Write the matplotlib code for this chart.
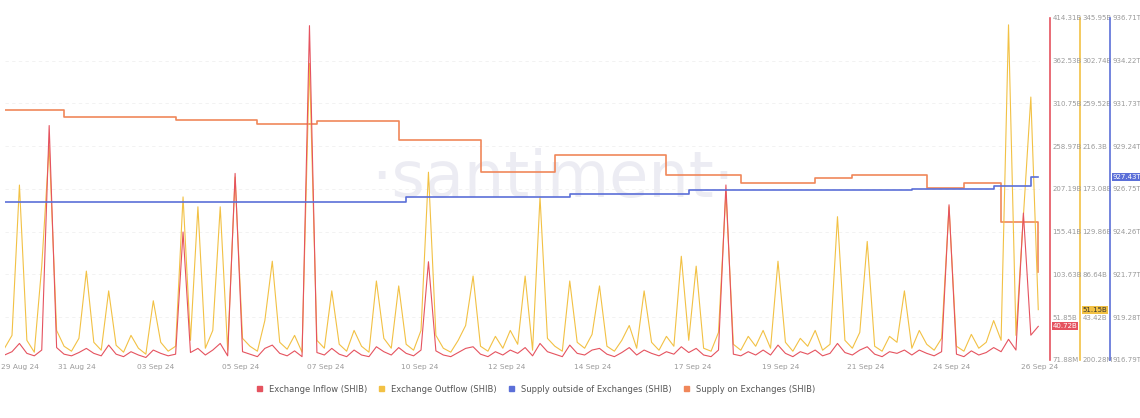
import matplotlib
matplotlib.use("Agg")
import matplotlib.pyplot as plt
import numpy as np

# Exchange outflow (B SHIB), ~140 samples across 29 Aug - 26 Sep 24
outflow = [12, 25, 177, 20, 8, 95, 217, 30, 14, 9, 22, 90, 18, 10, 70, 15, 8, 25, 12, 6,
           60, 18, 9, 14, 165, 20, 155, 12, 30, 155, 10, 185, 22, 14, 9, 40, 100, 18, 11, 25,
           8, 300, 20, 12, 70, 16, 9, 30, 14, 8, 80, 22, 12, 75, 16, 10, 30, 190, 25, 12,
           8, 20, 35, 85, 14, 9, 24, 12, 30, 16, 85, 10, 165, 22, 14, 9, 80, 18, 12, 26,
           75, 14, 9, 20, 35, 12, 70, 18, 10, 24, 14, 105, 20, 95, 12, 9, 28, 170, 16, 10,
           24, 14, 30, 12, 100, 18, 9, 22, 14, 30, 10, 16, 145, 20, 12, 28, 120, 14, 9, 24,
           18, 70, 12, 30, 16, 10, 22, 155, 14, 9, 26, 12, 18, 40, 20, 339, 25, 145, 266, 51]
# Exchange inflow (B SHIB)
inflow = [6, 10, 20, 8, 5, 12, 284, 15, 7, 5, 9, 14, 8, 5, 18, 7, 4, 10, 6, 3,
          12, 8, 5, 7, 155, 9, 14, 6, 12, 20, 5, 226, 10, 7, 4, 14, 18, 8, 5, 11,
          4, 405, 9, 6, 14, 7, 4, 12, 6, 4, 16, 10, 6, 15, 8, 5, 12, 119, 11, 6,
          4, 9, 14, 16, 7, 4, 10, 6, 12, 8, 15, 5, 20, 10, 7, 4, 18, 8, 6, 12,
          14, 7, 4, 9, 15, 6, 12, 8, 5, 10, 7, 16, 9, 14, 6, 4, 12, 212, 7, 5,
          10, 6, 12, 6, 18, 8, 4, 10, 7, 12, 5, 8, 20, 9, 6, 12, 16, 7, 4, 10,
          8, 12, 6, 12, 8, 5, 10, 188, 7, 4, 11, 6, 9, 15, 10, 25, 12, 178, 30, 40.72]
# Supply outside of exchanges (T SHIB)
supply_out = [926.0] * 54 + [926.3] * 22 + [926.45] * 16 + [926.7] * 30 + [926.75] * 11 + [926.9] * 5 + [927.43] * 2
# Supply on exchanges (relative units, hidden axis)
supply_on = [250] * 8 + [243] * 15 + [240] * 11 + [236] * 8 + [239] * 11 + [220] * 11 + [188] * 10 + \
            [205] * 15 + [185] * 10 + [177] * 10 + [182] * 5 + [185] * 10 + [172] * 5 + [177] * 5 + [138] * 5 + [88] * 1
date_labels = ["29 Aug 24", "31 Aug 24", "03 Sep 24", "05 Sep 24", "07 Sep 24", "10 Sep 24", "12 Sep 24",
               "14 Sep 24", "17 Sep 24", "19 Sep 24", "21 Sep 24", "24 Sep 24", "26 Sep 24"]
date_px = [20, 77, 155, 240, 325, 418, 505, 590, 690, 777, 862, 947, 1035]

n = len(outflow)
x = np.arange(n)
px2i = lambda p: (p - 5) / 7.4

RED, YEL, BLUE, ORG = "#e5535f", "#f2c144", "#5b6fd8", "#f0875a"
GRAY = "#9a9a9a"

fig = plt.figure(figsize=(11.4, 4.18), dpi=100)
ax = fig.add_axes([0.004, 0.139, 0.908, 0.818])
ax.set_xlim(0, n - 1)
for s in ax.spines.values():
    s.set_visible(False)
ax.set_yticks([])
ax.set_xticks([px2i(p) for p in date_px])
ax.set_xticklabels(date_labels, fontsize=5.3, color=GRAY)
ax.tick_params(axis="x", length=0, pad=3)
for k in range(1, 8):
    ax.axhline(k / 8, color="#f0f0f0", lw=0.6, ls=(0, (4, 4)), zorder=0)
ax.set_ylim(0, 1)
ax.text(0.53, 0.53, "·santiment·", transform=ax.transAxes, fontsize=46, color="#ececf3",
        ha="center", va="center", zorder=0)

PT = 72 / 100  # pixels -> points

def mk(offset_px, color, lo, hi, labels):
    a = ax.twinx()
    a.set_ylim(lo, hi)
    for s in ["top", "left", "bottom"]:
        a.spines[s].set_visible(False)
    a.spines["right"].set_position(("outward", offset_px * PT))
    a.spines["right"].set_color(color)
    a.spines["right"].set_linewidth(1.2)
    a.set_yticks(np.linspace(lo, hi, 9))
    a.set_yticklabels(labels, fontsize=5, color=GRAY)
    a.tick_params(axis="y", length=0, pad=2)
    return a

in_lab = ["71.88M", "51.85B", "103.63B", "155.41B", "207.19B", "258.97B", "310.75B", "362.53B", "414.31B"]
out_lab = ["200.28M", "43.42B", "86.64B", "129.86B", "173.08B", "216.3B", "259.52B", "302.74B", "345.95B"]
sup_lab = ["916.79T", "919.28T", "921.77T", "924.26T", "926.75T", "929.24T", "931.73T", "934.22T", "936.71T"]

a_on = ax.twinx()
a_on.set_ylim(0, 342)
a_on.axis("off")
a_on.step(x[:len(supply_on)], supply_on, where="post", color=ORG, lw=1.2)

a_out = mk(40, YEL, 0.20028, 345.95, out_lab)
a_out.plot(x, outflow, color=YEL, lw=0.8)
a_in = mk(10, RED, 0.07188, 414.31, in_lab)
a_in.plot(x, inflow, color=RED, lw=0.8)
a_sup = mk(70, BLUE, 916.79, 936.71, sup_lab)
a_sup.step(x[:len(supply_out)], supply_out, where="post", color=BLUE, lw=1.2)

def tag(a, val, txt, color, offset_px, fc="white"):
    a.annotate(txt, xy=(1, val), xycoords=("axes fraction", "data"),
               xytext=(offset_px + 3, 0), textcoords="offset pixels", fontsize=5,
               color=fc, va="center", ha="left",
               bbox=dict(boxstyle="square,pad=0.15", fc=color, ec="none"))

tag(a_in, inflow[-1], "40.72B", RED, 10)
tag(a_out, outflow[-1], "51.15B", YEL, 40, fc="#333333")
tag(a_sup, supply_out[-1], "927.43T", BLUE, 70)

from matplotlib.patches import Patch
handles = [Patch(color=c) for c in (RED, YEL, BLUE, ORG)]
fig.legend(handles, ["Exchange Inflow (SHIB)", "Exchange Outflow (SHIB)",
                     "Supply outside of Exchanges (SHIB)", "Supply on Exchanges (SHIB)"],
           loc="lower center", bbox_to_anchor=(0.47, 0.04), ncol=4, frameon=False,
           fontsize=6, handlelength=0.6, handleheight=0.6, columnspacing=1.5,
           labelcolor="#555555")

fig.savefig("out.png", dpi=100, facecolor="white")
